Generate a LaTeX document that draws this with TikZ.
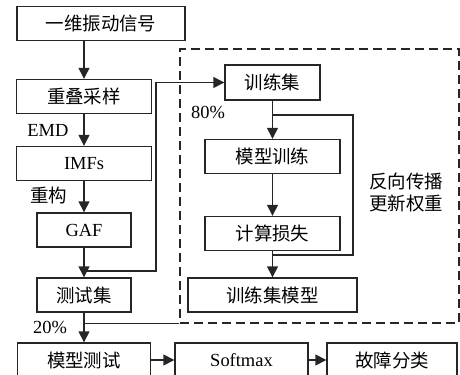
\documentclass[tikz,border=0pt]{standalone}
\usepackage{fontspec}
\setmainfont{Liberation Serif}
\newfontfamily\cjk{Noto Sans CJK SC}
\usetikzlibrary{arrows.meta, positioning, calc}
\tikzstyle{box} = [
    rectangle, draw=black!85, line width=0.8pt, inner sep=0pt,
    minimum height=0.68cm, font=\fontsize{10.5}{12}\selectfont
]
\tikzstyle{cn} = [font=\fontsize{10.5}{12}\selectfont\cjk]
\tikzstyle{lbl} = [inner sep=0pt, font=\fontsize{10.5}{12}\selectfont]
\tikzstyle{arrow} = [-{Triangle[length=2.2mm, width=2.2mm]}, line width=0.8pt, draw=black!85]
\tikzstyle{line} = [line width=0.8pt, draw=black!85]
\tikzstyle{frame} = [rectangle, draw=black!85, line width=0.8pt,
    dash pattern=on 0.18cm off 0.1cm]

\begin{document}
\begin{tikzpicture}[x=0.02cm, y=-0.02cm]
        \useasboundingbox (0,0) rectangle (460,375);

        % left column
        \node[box, cn, minimum width=3.36cm] (sig) at (101,23.5) {一维振动信号};
        \node[box, cn, minimum width=2.7cm] (resample) at (84,96.5) {重叠采样};
        \node[box, minimum width=2.7cm] (imfs) at (84,163.5) {IMFs};
        \node[box, minimum width=1.88cm] (gaf) at (84,230) {GAF};
        \node[box, cn, minimum width=1.88cm] (testset) at (84,295) {测试集};
        \node[box, cn, minimum width=2.66cm] (modeltest) at (84,360) {模型测试};

        % training group
        \node[frame, minimum width=5.58cm, minimum height=5.48cm] (group) at (319.5,186) {};
        \node[box, cn, minimum width=1.9cm, minimum height=0.7cm] (trainset) at (272.5,82.5) {训练集};
        \node[box, cn, minimum width=2.7cm] (train) at (272.5,156.5) {模型训练};
        \node[box, cn, minimum width=2.7cm] (loss) at (272.5,233.5) {计算损失};
        \node[box, cn, minimum width=3.38cm] (trmodel) at (272.5,295) {训练集模型};
        \node[cn, align=center, inner sep=0pt] (backprop) at (406,192.5) {反向传播\\更新权重};

        % bottom row
        \node[box, minimum width=2.66cm] (softmax) at (241.5,360) {Softmax};
        \node[box, cn, minimum width=2.6cm] (fault) at (392,360) {故障分类};

        \draw[arrow] (sig.south -| resample) -- (resample);
        \draw[arrow] (resample) -- (imfs);
        \draw[arrow] (imfs) -- (gaf);
        \draw[arrow] (gaf) -- (testset);
        \draw[arrow] (testset) -- (modeltest);
        \draw[arrow] (modeltest) -- (softmax);
        \draw[arrow] (softmax) -- (fault);
        \draw[arrow] (trainset) -- (train);
        \draw[arrow] (train) -- (loss);
        \draw[arrow] (loss) -- (trmodel);

        % split to training set
        \coordinate (split) at (84,271);
        \draw[arrow] (split) -- ++(72,0) |- (trainset.west);
        % feedback loop
        \coordinate (lossout) at (272.5,255);
        \coordinate (trainin) at (272.5,115);
        \draw[line] (lossout) -- ++(80.5,0) |- (trainin);
        % model to test
        \coordinate (join) at (group.south west -| testset);
        \draw[line] (group.south west) -- (join);

        % Annotations
        \node[lbl, anchor=west] (emd) at (27,130) {EMD};
        \node[lbl, cn, anchor=west] (recon) at (30,195) {重构};
        \node[lbl] (p80) at (208,112) {80\%};
        \node[lbl] (p20) at (50,327) {20\%};
    \end{tikzpicture}
\end{document}
